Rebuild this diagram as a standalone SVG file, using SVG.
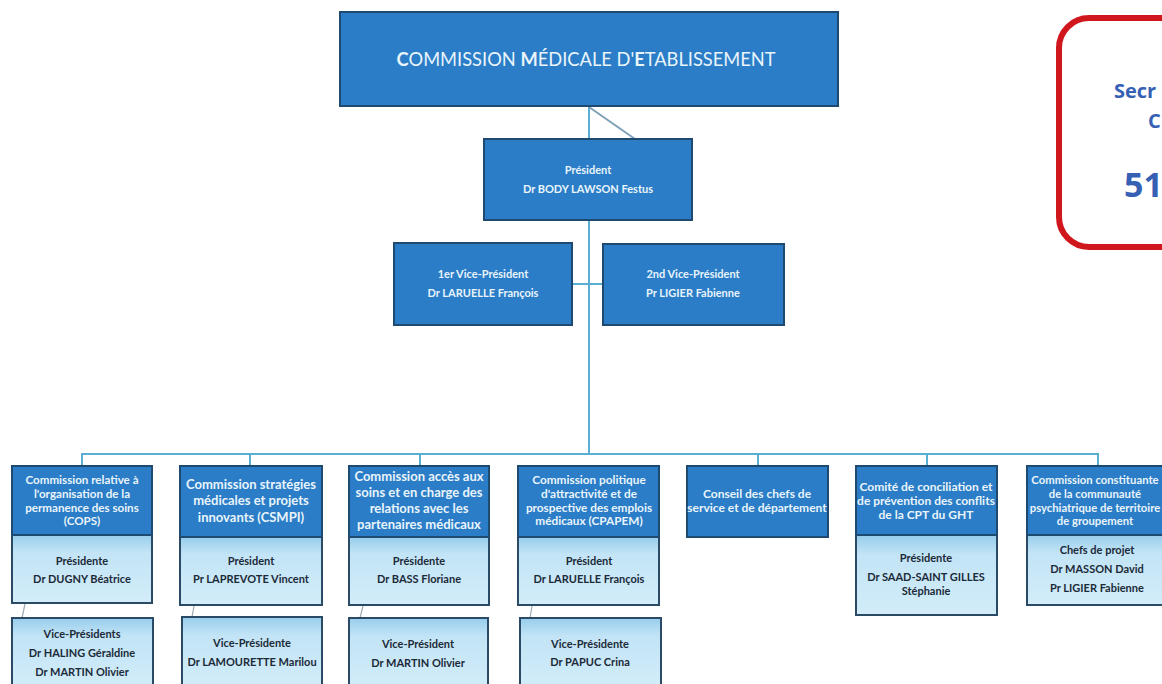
<svg xmlns="http://www.w3.org/2000/svg" width="1162" height="684" viewBox="0 0 1162 684">
<defs>
<linearGradient id="lg" x1="0" y1="0" x2="0" y2="1">
<stop offset="0" stop-color="#97cdec"/>
<stop offset="0.25" stop-color="#c2e4f6"/>
<stop offset="1" stop-color="#d3edf9"/>
</linearGradient>
<style>
.dk{fill:#2a7dc6;stroke:#1f4a70;stroke-width:2}
.lt{fill:url(#lg);stroke:#2a4a66;stroke-width:2}
.ht{font-family:Lato,"Liberation Sans",sans-serif;font-weight:bold;fill:#e9f4fb;text-anchor:middle}
.bt{font-family:Lato,"Liberation Sans",sans-serif;font-weight:bold;fill:#1c2a38;text-anchor:middle;font-size:11px}
.ln{stroke:#5aaed4;stroke-width:2;fill:none}
.fl{stroke:#9aaab5;stroke-width:1.2;fill:none}
.sc{font-family:"Open Sans","Liberation Sans",sans-serif;font-weight:bold;fill:#3560b4}
</style>
</defs>
<rect width="1162" height="684" fill="#ffffff"/>
<g id="connectors">
<line class="ln" x1="589" y1="107" x2="589" y2="454"/>
<line x1="589" y1="107" x2="635" y2="139" stroke="#7d9fb8" stroke-width="2"/>
<line class="ln" x1="572" y1="284" x2="603" y2="284"/>
<polyline class="ln" points="82,466 82,454 1098,454 1098,466"/>
<line class="ln" x1="250" y1="454" x2="250" y2="466"/>
<line class="ln" x1="420" y1="454" x2="420" y2="466"/>
<line class="ln" x1="758" y1="454" x2="758" y2="466"/>
<line class="ln" x1="927" y1="454" x2="927" y2="466"/>
<line class="fl" x1="25" y1="604" x2="22" y2="618"/>
<line class="fl" x1="194" y1="606" x2="192" y2="617"/>
<line class="fl" x1="363" y1="606" x2="360" y2="618"/>
<line class="fl" x1="532" y1="606" x2="530" y2="618"/>
</g>
<g id="cme">
<rect class="dk" x="340" y="12" width="498" height="94"/>
<text x="586" y="66" font-family="Lato,'Liberation Sans',sans-serif" font-size="18.3" fill="#e9f4fb" text-anchor="middle"><tspan font-weight="bold">C</tspan>OMMISSION <tspan font-weight="bold">M</tspan>ÉDICALE D'<tspan font-weight="bold">E</tspan>TABLISSEMENT</text>
</g>
<g id="president">
<rect class="dk" x="484" y="139" width="208" height="81"/>
<text class="ht" font-size="11" x="588" y="174">Président</text>
<text class="ht" font-size="11" x="588" y="193">Dr BODY LAWSON Festus</text>
</g>
<g id="vp1">
<rect class="dk" x="394" y="243" width="178" height="82"/>
<text class="ht" font-size="11" x="483" y="278">1er Vice-Président</text>
<text class="ht" font-size="11" x="483" y="297">Dr LARUELLE François</text>
</g>
<g id="vp2">
<rect class="dk" x="603" y="244" width="181" height="81"/>
<text class="ht" font-size="11" x="693" y="278">2nd Vice-Président</text>
<text class="ht" font-size="11" x="693" y="297">Pr LIGIER  Fabienne</text>
</g>
<g id="secretariat">
<rect x="1059" y="18" width="140" height="229" rx="30" ry="30" fill="#ffffff" stroke="#d0171d" stroke-width="6"/>
<text class="sc" x="1114" y="98" font-size="20">Secr</text>
<text class="sc" x="1148" y="128" font-size="20">C</text>
<text class="sc" x="1124" y="197" font-size="34">51</text>
</g>
<g id="cops">
<rect class="lt" x="12" y="535" width="140" height="68"/>
<rect class="dk" x="12" y="466" width="140" height="69"/>
<text class="ht" font-size="11.6" x="82" y="484">Commission relative à</text>
<text class="ht" font-size="11.6" x="82" y="498">l'organisation de la</text>
<text class="ht" font-size="11.6" x="82" y="512">permanence des soins</text>
<text class="ht" font-size="11.6" x="82" y="525">(COPS)</text>
<text class="bt" x="82" y="565">Présidente</text>
<text class="bt" x="82" y="583">Dr DUGNY Béatrice</text>
</g>
<g id="cops-vp">
<rect class="lt" x="12" y="618" width="141" height="72"/>
<text class="bt" x="82" y="638">Vice-Présidents</text>
<text class="bt" x="82" y="657">Dr HALING Géraldine</text>
<text class="bt" x="82" y="676">Dr MARTIN Olivier</text>
</g>
<g id="csmpi">
<rect class="lt" x="180" y="537" width="142" height="68"/>
<rect class="dk" x="180" y="466" width="142" height="71"/>
<text class="ht" font-size="13" x="251" y="489">Commission stratégies</text>
<text class="ht" font-size="13" x="251" y="505">médicales et projets</text>
<text class="ht" font-size="13" x="251" y="522">innovants (CSMPI)</text>
<text class="bt" x="251" y="565">Président</text>
<text class="bt" x="251" y="583">Pr LAPREVOTE Vincent</text>
</g>
<g id="csmpi-vp">
<rect class="lt" x="182" y="617" width="140" height="72"/>
<text class="bt" x="252" y="647">Vice-Présidente</text>
<text class="bt" x="252" y="666">Dr LAMOURETTE Marilou</text>
</g>
<g id="acces">
<rect class="lt" x="349" y="537" width="140" height="68"/>
<rect class="dk" x="349" y="466" width="140" height="71"/>
<text class="ht" font-size="13" x="419" y="481">Commission accès aux</text>
<text class="ht" font-size="13" x="419" y="497">soins et en charge des</text>
<text class="ht" font-size="13" x="419" y="513">relations avec les</text>
<text class="ht" font-size="13" x="419" y="529">partenaires médicaux</text>
<text class="bt" x="419" y="565">Présidente</text>
<text class="bt" x="419" y="583">Dr BASS Floriane</text>
</g>
<g id="acces-vp">
<rect class="lt" x="349" y="618" width="139" height="72"/>
<text class="bt" x="418" y="648">Vice-Président</text>
<text class="bt" x="418" y="667">Dr MARTIN Olivier</text>
</g>
<g id="cpapem">
<rect class="lt" x="518" y="537" width="141" height="68"/>
<rect class="dk" x="518" y="466" width="141" height="71"/>
<text class="ht" font-size="11.8" x="589" y="484">Commission politique</text>
<text class="ht" font-size="11.8" x="589" y="498">d'attractivité et de</text>
<text class="ht" font-size="11.8" x="589" y="512">prospective des emplois</text>
<text class="ht" font-size="11.8" x="589" y="525">médicaux (CPAPEM)</text>
<text class="bt" x="589" y="565">Président</text>
<text class="bt" x="589" y="583">Dr LARUELLE François</text>
</g>
<g id="cpapem-vp">
<rect class="lt" x="520" y="618" width="141" height="72"/>
<text class="bt" x="590" y="648">Vice-Présidente</text>
<text class="bt" x="590" y="666">Dr PAPUC Crina</text>
</g>
<g id="conseil">
<rect class="dk" x="687" y="466" width="141" height="71"/>
<text class="ht" font-size="12" x="757" y="498">Conseil des chefs de</text>
<text class="ht" font-size="12" x="757" y="512">service et de département</text>
</g>
<g id="comite">
<rect class="lt" x="856" y="535" width="141" height="80"/>
<rect class="dk" x="856" y="466" width="141" height="69"/>
<text class="ht" font-size="12" x="926" y="491">Comité de conciliation et</text>
<text class="ht" font-size="12" x="926" y="505">de prévention des conflits</text>
<text class="ht" font-size="12" x="926" y="519">de la CPT du GHT</text>
<text class="bt" x="926" y="562">Présidente</text>
<text class="bt" x="926" y="581">Dr SAAD-SAINT GILLES</text>
<text class="bt" x="926" y="595">Stéphanie</text>
</g>
<g id="constituante">
<rect class="lt" x="1027" y="535" width="141" height="70"/>
<rect class="dk" x="1027" y="466" width="141" height="69"/>
<text class="ht" font-size="11.3" x="1095" y="484">Commission constituante</text>
<text class="ht" font-size="11.3" x="1095" y="498">de la communauté</text>
<text class="ht" font-size="11.3" x="1095" y="512">psychiatrique de territoire</text>
<text class="ht" font-size="11.3" x="1095" y="525">de groupement</text>
<text class="bt" x="1097" y="554">Chefs de projet</text>
<text class="bt" x="1097" y="573">Dr MASSON David</text>
<text class="bt" x="1097" y="592">Pr LIGIER  Fabienne</text>
</g>
</svg>
